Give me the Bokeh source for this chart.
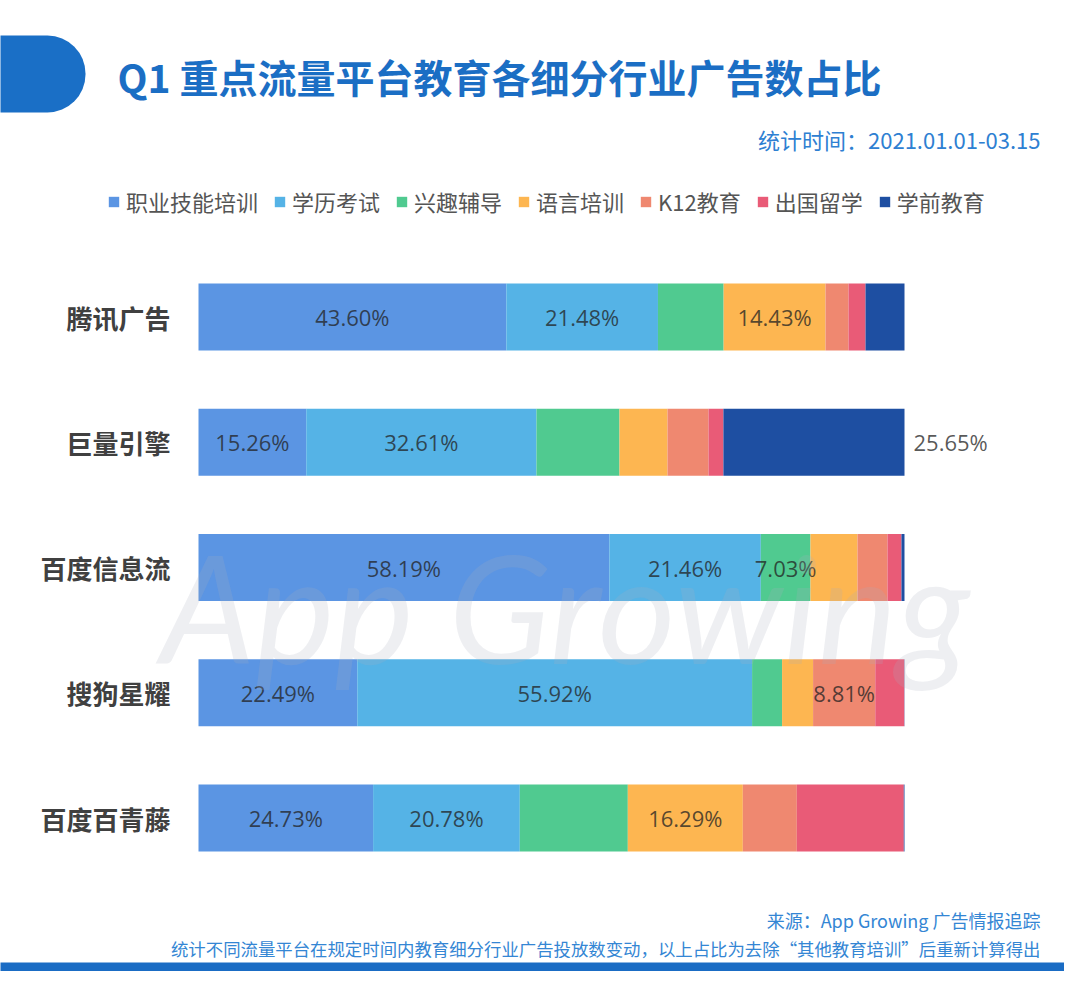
from bokeh.plotting import figure
from bokeh.models import (ColumnDataSource, Range1d, Label, Legend,
                          LegendItem, BoxAnnotation)
from bokeh.core.properties import value
from bokeh.embed import file_html
from bokeh.resources import INLINE

# ---------------- data ----------------
platforms = ["腾讯广告", "巨量引擎", "百度信息流", "搜狗星耀", "百度百青藤"]
categories = ["职业技能培训", "学历考试", "兴趣辅导", "语言培训", "K12教育", "出国留学", "学前教育"]

vocational   = [43.60, 15.26, 58.19, 22.49, 24.73]
degree_exam  = [21.48, 32.61, 21.46, 55.92, 20.78]
interest     = [9.30, 11.76, 7.03, 4.25, 15.30]
language     = [14.43, 6.80, 6.66, 4.39, 16.29]
k12          = [3.26, 5.81, 4.25, 8.81, 7.65]
study_abroad = [2.41, 2.11, 1.98, 4.11, 15.15]
preschool    = [5.52, 25.65, 0.43, 0.03, 0.10]

series = [vocational, degree_exam, interest, language, k12, study_abroad, preschool]
colors = ["#5b95e3", "#55b3e6", "#50ca90", "#fdb651", "#ef8870", "#e95b77", "#1e4fa2"]

# segments that carry a value label
labelled = {
    "腾讯广告": ["职业技能培训", "学历考试", "语言培训"],
    "巨量引擎": ["职业技能培训", "学历考试", "学前教育"],
    "百度信息流": ["职业技能培训", "学历考试", "兴趣辅导"],
    "搜狗星耀": ["职业技能培训", "学历考试", "K12教育"],
    "百度百青藤": ["职业技能培训", "学历考试", "语言培训"],
}
outside_labels = {("巨量引擎", "学前教育")}

title_text = "Q1 重点流量平台教育各细分行业广告数占比"
subtitle_text = "统计时间：2021.01.01-03.15"
source_text = "来源：App Growing 广告情报追踪"
note_text = "统计不同流量平台在规定时间内教育细分行业广告投放数变动，以上占比为去除“其他教育培训”后重新计算得出"
watermark_text = "App Growing"

# ---------------- layout ----------------
W, H = 1064, 971
BAR_X0 = 198          # pixel where 0 % sits
PX_PER_PCT = 7.06     # pixels per percentage point
ROW0_Y = 316.5        # pixel centre of first row
PX_PER_ROW = 125.25   # pixels between rows


def dx(px):
    return (px - BAR_X0) / PX_PER_PCT


def dy(py):
    return (py - ROW0_Y) / PX_PER_ROW


CJK = "Noto Sans CJK SC"

p = figure(width=W, height=H,
           x_range=Range1d(dx(0), dx(W)),
           y_range=Range1d(dy(H), dy(0)),
           output_backend="svg", toolbar_location=None, title=None,
           x_axis_location=None, y_axis_location=None,
           min_border=0, min_border_left=0, min_border_right=0,
           min_border_top=0, min_border_bottom=0,
           outline_line_color=None, background_fill_color="white",
           border_fill_color="white")
p.xgrid.grid_line_color = None
p.ygrid.grid_line_color = None

rows = list(range(len(platforms)))
data = {"platform": platforms, "row": rows}
for cat, vals in zip(categories, series):
    data[cat] = vals
source = ColumnDataSource(data)

renderers = p.hbar_stack(categories, y="row", height=0.535, color=colors,
                         line_color=None, source=source)

# platform names (category labels)
name_src = ColumnDataSource(dict(x=[0] * len(platforms), y=rows, text=platforms))
p.text(x="x", y="y", text="text", source=name_src, x_offset=-28,
       text_align="right", text_baseline="middle", text_font=value(CJK),
       text_font_size="26px", text_font_style="bold", text_color="#404040")

# value labels
lx, ly, lt, la, lo = [], [], [], [], []
for i, plat in enumerate(platforms):
    left = 0.0
    for j, cat in enumerate(categories):
        v = series[j][i]
        if cat in labelled[plat]:
            if (plat, cat) in outside_labels:
                lx.append(left + v)
                la.append("left")
                lo.append(9)
            else:
                lx.append(left + v / 2)
                la.append("center")
                lo.append(0)
            ly.append(rows[i])
            lt.append(f"{v:.2f}%")
        left += v
lab_src = ColumnDataSource(dict(x=lx, y=ly, text=lt, align=la, off=lo))
p.text(x="x", y="y", text="text", source=lab_src, text_align="align",
       x_offset="off", text_baseline="middle", text_font=value("Open Sans"),
       text_font_size="22px", text_color="#222222", text_alpha=0.75)

# legend
legend = Legend(items=[LegendItem(label=value(c), renderers=[r])
                       for c, r in zip(categories, renderers)],
                orientation="horizontal", location=(107, H - 217),
                padding=0, margin=0, spacing=15, glyph_width=13, glyph_height=13,
                label_standoff=6, label_height=22,
                label_text_font=CJK, label_text_font_size="22px",
                label_text_color="#555555", background_fill_alpha=0,
                border_line_color=None)
p.add_layout(legend, "center")

# header shape and footer band
p.add_layout(BoxAnnotation(left=dx(-40), right=dx(85), top=dy(35), bottom=dy(112),
                           fill_color="#1a6fc6", fill_alpha=1, line_color=None,
                           border_radius=dict(top_left=0, top_right=38,
                                              bottom_right=38, bottom_left=0)))
p.add_layout(BoxAnnotation(left=dx(-40), right=dx(1120), top=dy(962), bottom=dy(1010),
                           fill_color="#1a6cc4", fill_alpha=1, line_color=None))

# texts
p.add_layout(Label(x=dx(117), y=dy(75), text=title_text, text_font=CJK,
                   text_font_size="39px", text_font_style="bold",
                   text_color="#1b6ec4", text_baseline="middle", text_align="left"))
p.add_layout(Label(x=dx(1040), y=dy(138), text=subtitle_text, text_font=CJK,
                   text_font_size="22px", text_color="#2e80d2",
                   text_baseline="middle", text_align="right"))
p.add_layout(Label(x=dx(1040), y=dy(919), text=source_text, text_font=CJK,
                   text_font_size="18px", text_color="#3486d4",
                   text_baseline="middle", text_align="right"))
p.add_layout(Label(x=dx(1040), y=dy(948), text=note_text, text_font=CJK,
                   text_font_size="17.4px", text_color="#3486d4",
                   text_baseline="middle", text_align="right"))
p.add_layout(Label(x=dx(160), y=dy(605), text=watermark_text, text_font="Lato",
                   text_font_size="150px", text_font_style="italic",
                   text_color="#a8b0bc", text_alpha=0.2,
                   text_baseline="alphabetic", text_align="left"))

open("out.html", "w").write(file_html(p, INLINE))
